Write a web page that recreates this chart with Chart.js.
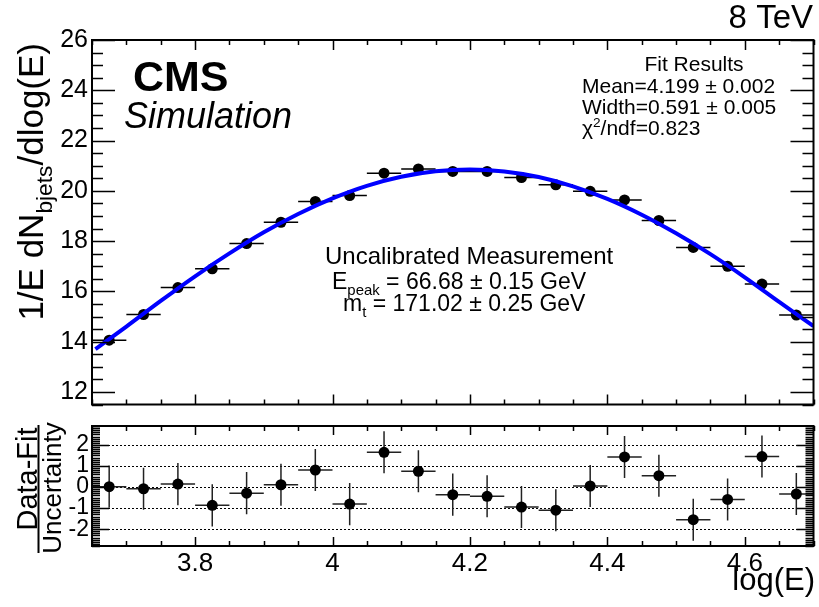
<!DOCTYPE html>
<html>
<head>
<meta charset="utf-8">
<script src="https://cdn.jsdelivr.net/npm/chart.js@4.4.1/dist/chart.umd.min.js"></script>
<style>
  body { margin: 0; background: #fff; }
  canvas { position: absolute; left: 0; }
  #top { top: 0; }
  #bottom { top: 410px; }
</style>
</head>
<body>
<canvas id="top" width="819" height="410"></canvas>
<canvas id="bottom" width="819" height="197"></canvas>
<script>
// --- data ---
const BIN_X = [3.675, 3.725, 3.775, 3.825, 3.875, 3.925, 3.975, 4.025, 4.075, 4.125, 4.175,
               4.225, 4.275, 4.325, 4.375, 4.425, 4.475, 4.525, 4.575, 4.625, 4.675];
const BIN_HALF = 0.025;
const DATA_Y = [14.06, 15.08, 16.15, 16.90, 17.90, 18.75, 19.58, 19.81, 20.70, 20.87, 20.77,
                20.77, 20.53, 20.24, 19.98, 19.64, 18.82, 17.75, 17.00, 16.29, 15.06];
const FIT_X = [3.655, 3.70, 3.75, 3.80, 3.85, 3.90, 3.95, 4.00, 4.05, 4.10, 4.15,
               4.20, 4.25, 4.30, 4.35, 4.40, 4.45, 4.50, 4.55, 4.60, 4.65, 4.70];
const FIT_Y = [13.70, 14.60, 15.62, 16.60, 17.51, 18.35, 19.08, 19.70, 20.20, 20.56, 20.78,
               20.85, 20.77, 20.55, 20.18, 19.68, 19.05, 18.31, 17.48, 16.56, 15.58, 14.62];
const RES_Y = [0.02, -0.08, 0.14, -0.87, -0.29, 0.11, 0.81, -0.81, 1.65, 0.75, -0.36,
               -0.44, -0.95, -1.10, 0.05, 1.43, 0.54, -1.55, -0.59, 1.45, -0.33];
const RES_ERR = [1, 1, 1, 1, 1, 1, 1, 1, 1, 1, 1, 1, 1, 1, 1, 1, 1, 1, 1, 1, 1];

const X_TICKS = [3.8, 4.0, 4.2, 4.4, 4.6];
const X_TICK_LABELS = ['3.8', '4', '4.2', '4.4', '4.6'];
const TOP_Y_TICKS = [12, 14, 16, 18, 20, 22, 24, 26];
const RES_Y_TICKS = [-2, -1, 0, 1, 2];
const RES_GRID = [-2, -1, 0, 1, 2];

const FONT = '"Liberation Sans", Arial, Helvetica, sans-serif';

// --- helpers ---
// parts: [text, kind] with kind '' | 'sub' | 'sup'
function richWidth(ctx, parts, size, style) {
    let w = 0;
    parts.forEach(([t, k]) => {
        const s = k ? size * 0.65 : size;
        ctx.font = `${style || ''} ${s}px ${FONT}`;
        w += ctx.measureText(t).width;
    });
    return w;
}

function drawRich(ctx, parts, x, y, size, align, style) {
    const w = richWidth(ctx, parts, size, style);
    let cx = align === 'right' ? x - w : align === 'center' ? x - w / 2 : x;
    ctx.textAlign = 'left';
    ctx.textBaseline = 'alphabetic';
    ctx.fillStyle = '#000';
    parts.forEach(([t, k]) => {
        const s = k ? size * 0.65 : size;
        const dy = k === 'sub' ? size * 0.25 : k === 'sup' ? -size * 0.4 : 0;
        ctx.font = `${style || ''} ${s}px ${FONT}`;
        ctx.fillText(t, cx, y + dy);
        cx += ctx.measureText(t).width;
    });
}

// ROOT style frame with inward ticks on all four sides
function drawFrame(chart, spec) {
    const ctx = chart.ctx;
    const { left, right, top, bottom } = chart.chartArea;
    const xs = chart.scales.x, ys = chart.scales.y;
    ctx.save();
    ctx.strokeStyle = '#000';
    ctx.lineWidth = 1.5;
    ctx.beginPath();
    for (let i = Math.ceil(xs.min / spec.xMinor - 1e-6); i * spec.xMinor <= xs.max + 1e-9; i++) {
        const v = i * spec.xMinor;
        const major = Math.abs(v / spec.xMajor - Math.round(v / spec.xMajor)) < 1e-6;
        const len = major ? spec.xMajorLen : spec.xMinorLen;
        const px = Math.round(xs.getPixelForValue(v)) + 0.5;
        ctx.moveTo(px, bottom); ctx.lineTo(px, bottom - len);
        ctx.moveTo(px, top); ctx.lineTo(px, top + len);
    }
    for (let i = Math.ceil(ys.min / spec.yMinor - 1e-6); i * spec.yMinor <= ys.max + 1e-9; i++) {
        const v = i * spec.yMinor;
        const major = Math.abs(v / spec.yMajor - Math.round(v / spec.yMajor)) < 1e-6;
        const len = major ? spec.yMajorLen : spec.yMinorLen;
        const py = Math.round(ys.getPixelForValue(v)) + 0.5;
        ctx.moveTo(left, py); ctx.lineTo(left + len, py);
        ctx.moveTo(right, py); ctx.lineTo(right - len, py);
    }
    ctx.stroke();
    ctx.lineWidth = 2;
    ctx.strokeRect(left, top, right - left, bottom - top);
    ctx.restore();
}

function fixedTicks(values) {
    return scale => { scale.ticks = values.map(v => ({ value: v })); };
}

// fixed axis width, no extra label overflow padding
function fixedWidth(w) {
    return s => { s.width = w; s.paddingTop = 0; s.paddingBottom = 0; };
}

// --- top panel ---
const topPlugin = {
    id: 'topDecor',
    beforeDatasetsDraw(chart) {
        const ctx = chart.ctx, xs = chart.scales.x, ys = chart.scales.y;
        ctx.save();
        ctx.strokeStyle = '#000';
        ctx.lineWidth = 1.5;
        ctx.beginPath();
        BIN_X.forEach((x, i) => {
            const py = ys.getPixelForValue(DATA_Y[i]);
            ctx.moveTo(xs.getPixelForValue(x - BIN_HALF), py);
            ctx.lineTo(xs.getPixelForValue(x + BIN_HALF), py);
        });
        ctx.stroke();
        ctx.restore();
    },
    afterDraw(chart) {
        const ctx = chart.ctx;
        drawFrame(chart, { xMinor: 0.05, xMajor: 0.2, xMajorLen: 10, xMinorLen: 5,
                           yMinor: 0.5, yMajor: 2, yMajorLen: 23, yMinorLen: 11 });
        ctx.save();
        drawRich(ctx, [['8 TeV', '']], 813, 28, 33, 'right');
        drawRich(ctx, [['CMS', '']], 133, 91, 43, 'left', 'bold');
        drawRich(ctx, [['Simulation', '']], 124, 128, 36, 'left', 'italic');

        drawRich(ctx, [['Fit Results', '']], 694, 71, 21, 'center');
        drawRich(ctx, [['Mean=4.199 ± 0.002', '']], 582, 93, 21, 'left');
        drawRich(ctx, [['Width=0.591 ± 0.005', '']], 582, 114, 21, 'left');
        drawRich(ctx, [['χ', ''], ['2', 'sup'], ['/ndf=0.823', '']], 582, 135, 21, 'left');

        drawRich(ctx, [['Uncalibrated Measurement', '']], 325, 264, 24, 'left');
        drawRich(ctx, [['E', ''], ['peak', 'sub'], [' = 66.68 ± 0.15 GeV', '']], 332, 289, 23, 'left');
        drawRich(ctx, [['m', ''], ['t', 'sub'], [' = 171.02 ± 0.25 GeV', '']], 343, 311, 23, 'left');

        // y axis title, rotated
        ctx.translate(43, 43);
        ctx.rotate(-Math.PI / 2);
        drawRich(ctx, [['1/E dN', ''], ['bjets', 'sub'], ['/dlog(E)', '']], 0, 0, 35, 'right');
        ctx.restore();
    }
};

new Chart(document.getElementById('top'), {
    type: 'scatter',
    data: {
        datasets: [
            {
                type: 'line',
                data: FIT_X.map((x, i) => ({ x, y: FIT_Y[i] })),
                borderColor: '#0000ff',
                borderWidth: 4,
                pointRadius: 0,
                cubicInterpolationMode: 'monotone',
                order: 0
            },
            {
                data: BIN_X.map((x, i) => ({ x, y: DATA_Y[i] })),
                backgroundColor: '#000',
                borderWidth: 0,
                pointRadius: 5.5,
                pointHoverRadius: 5.5,
                order: 1
            }
        ]
    },
    options: {
        responsive: false,
        animation: false,
        events: [],
        layout: { padding: { top: 40, right: 2, bottom: 3, left: 0 } },
        plugins: { legend: { display: false }, tooltip: { enabled: false } },
        scales: {
            x: { type: 'linear', min: 3.65, max: 4.70, display: false },
            y: {
                min: 11.5, max: 26,
                afterFit: fixedWidth(92),
                afterBuildTicks: fixedTicks(TOP_Y_TICKS),
                grid: { display: false, drawTicks: false },
                border: { display: false },
                ticks: { autoSkip: false, padding: 4, color: '#000', font: { size: 25, family: FONT } }
            }
        }
    },
    plugins: [topPlugin]
});

// --- residual panel ---
const bottomPlugin = {
    id: 'bottomDecor',
    beforeDatasetsDraw(chart) {
        const ctx = chart.ctx, xs = chart.scales.x, ys = chart.scales.y;
        const { left, right } = chart.chartArea;
        ctx.save();
        ctx.strokeStyle = '#000';
        ctx.lineWidth = 1.2;
        ctx.setLineDash([2, 2]);
        ctx.beginPath();
        RES_GRID.forEach(v => {
            const py = Math.round(ys.getPixelForValue(v)) + 0.5;
            ctx.moveTo(left, py); ctx.lineTo(right, py);
        });
        ctx.stroke();
        ctx.setLineDash([]);
        ctx.strokeStyle = '#222';
        ctx.lineWidth = 1.5;
        ctx.beginPath();
        BIN_X.forEach((x, i) => {
            const px = xs.getPixelForValue(x), py = ys.getPixelForValue(RES_Y[i]);
            ctx.moveTo(xs.getPixelForValue(x - BIN_HALF), py);
            ctx.lineTo(xs.getPixelForValue(x + BIN_HALF), py);
            ctx.moveTo(px, ys.getPixelForValue(RES_Y[i] - RES_ERR[i]));
            ctx.lineTo(px, ys.getPixelForValue(RES_Y[i] + RES_ERR[i]));
        });
        ctx.stroke();
        ctx.restore();
    },
    afterDraw(chart) {
        const ctx = chart.ctx;
        drawFrame(chart, { xMinor: 0.05, xMajor: 0.2, xMajorLen: 9, xMinorLen: 5,
                           yMinor: 0.1, yMajor: 1, yMajorLen: 17, yMinorLen: 8 });
        ctx.save();
        drawRich(ctx, [['log(E)', '']], 815, 180, 31, 'right');
        // fraction title
        ctx.translate(38.5, 79);
        ctx.rotate(-Math.PI / 2);
        drawRich(ctx, [['Data-Fit', '']], 10, -2, 29, 'center');
        drawRich(ctx, [['Uncertainty', '']], 1, 22, 26, 'center');
        ctx.strokeStyle = '#000';
        ctx.lineWidth = 2;
        ctx.beginPath();
        ctx.moveTo(-64, 0); ctx.lineTo(64, 0);
        ctx.stroke();
        ctx.restore();
    }
};

new Chart(document.getElementById('bottom'), {
    type: 'scatter',
    data: {
        datasets: [{
            data: BIN_X.map((x, i) => ({ x, y: RES_Y[i] })),
            backgroundColor: '#000',
            borderWidth: 0,
            pointRadius: 5.5,
            pointHoverRadius: 5.5
        }]
    },
    options: {
        responsive: false,
        animation: false,
        events: [],
        layout: { padding: { top: 16, right: 2, bottom: 0, left: 0 } },
        plugins: { legend: { display: false }, tooltip: { enabled: false } },
        scales: {
            x: {
                type: 'linear', min: 3.65, max: 4.70,
                afterFit: s => { s.height = 61; },
                afterBuildTicks: fixedTicks(X_TICKS),
                grid: { display: false, drawTicks: false },
                border: { display: false },
                ticks: {
                    autoSkip: false, maxRotation: 0, minRotation: 0, padding: 2,
                    color: '#000', font: { size: 26, family: FONT },
                    callback: (v, i) => X_TICK_LABELS[i]
                }
            },
            y: {
                min: -2.8, max: 2.9,
                afterFit: fixedWidth(92),
                afterBuildTicks: fixedTicks(RES_Y_TICKS),
                grid: { display: false, drawTicks: false },
                border: { display: false },
                ticks: { autoSkip: false, padding: 3, color: '#000', font: { size: 23, family: FONT } }
            }
        }
    },
    plugins: [bottomPlugin]
});
</script>
</body>
</html>
